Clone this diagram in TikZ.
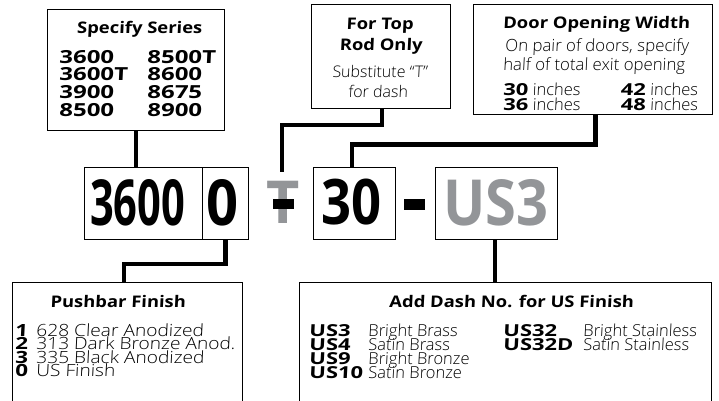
\documentclass[tikz,border=0pt]{standalone}
\usepackage{fontspec}
\usepackage{graphicx}
\setmainfont{Open Sans}[FakeSlant=0.05, BoldFeatures={FakeStretch=1.15, FakeSlant=0.05}]
\IfFontExistsTF{Open Sans Light}{\newfontfamily\lite{Open Sans Light}[FakeSlant=0.05]}{\newfontfamily\lite{Open Sans}[FakeSlant=0.05]}
\IfFontExistsTF{Open Sans Light}{\newfontfamily\litew{Open Sans Light}[FakeSlant=0.05, FakeStretch=1.14]}{\newfontfamily\litew{Open Sans}[FakeSlant=0.05, FakeStretch=1.14]}
\newfontfamily\wideb{Open Sans Bold}[FakeSlant=0.05, FakeStretch=1.33]
\IfFontExistsTF{Open Sans ExtraBold}{\newfontfamily\heavy{Open Sans ExtraBold}}{\newfontfamily\heavy{Open Sans Bold}}
\definecolor{pgrey}{HTML}{939598}
\tikzset{
  box/.style={draw, line width=1.2pt, fill=white, inner sep=0pt, anchor=north west},
  conn/.style={line width=4.3pt, line join=miter},
  hd/.style={font=\fontsize{16}{16}\selectfont\bfseries, inner sep=0pt, anchor=base},
  tx/.style={font=\lite\fontsize{16}{16}\selectfont, inner sep=0pt, anchor=base},
  blk/.style={inner sep=0pt, anchor=base west},
  big/.style={inner sep=0pt, anchor=south west},
  dashbox/.style={fill=black, inner sep=0pt, anchor=north west}
}
\newcommand\sm[1]{\smash{#1}}
\begin{document}
\begin{tikzpicture}[x=1pt,y=-1pt]
\useasboundingbox (0,0) rectangle (719,400);
\clip (0,0) rectangle (719,400);

% boxes
\node[box, minimum width=177pt, minimum height=121pt] (spec) at (47,9) {};
\node[box, minimum width=139pt, minimum height=104pt] (top) at (311,4) {};
\node[box, minimum width=239pt, minimum height=110pt] (door) at (473,4) {};
\node[box, minimum width=118pt, minimum height=72pt] (num) at (84,166.5) {};
\node[box, minimum width=46pt, minimum height=72pt] (fin) at (202,166.5) {};
\node[box, minimum width=82pt, minimum height=72pt] (wid) at (312.5,166.5) {};
\node[box, minimum width=122pt, minimum height=72pt] (us) at (435,166.5) {};
\node[box, minimum width=230pt, minimum height=130pt] (push) at (12,282) {};
\node[box, minimum width=412pt, minimum height=130pt] (usb) at (299,282) {};

% connectors
\coordinate (tEnd) at (281.7,171.7);
\draw[conn] (spec.south) -- (spec.south |- num.north);
\draw[conn] ([xshift=1.2pt]top.south) -- ++(0,15.5) -| (tEnd);
\draw[conn] ([xshift=2.5pt]door.south) -- ++(0,29.3) -| ([xshift=-1.8pt]wid.north);
\draw[conn] (fin.south) -- ++(0,24) -| ([xshift=-3.7pt]push.north);
\draw[conn] ([xshift=-1.3pt]us.south) -- ([xshift=-1.3pt]us.south |- usb.north);

% big code
\node[big] (n3600) at (90,226.7) {\resizebox{95pt}{46pt}{\heavy 3600}};
\node[big] (n0) at (206.7,226.7) {\resizebox{32pt}{46pt}{\heavy 0}};
\node[big] (nT) at (266.7,224) {\resizebox{33.3pt}{42.3pt}{\color{pgrey}\heavy T}};
\node[dashbox, minimum width=21.7pt, minimum height=10pt] (tdash) at (272.3,198.3) {};
\node[big] (n30) at (321.7,225.5) {\resizebox{60pt}{45.5pt}{\heavy 30}};
\node[dashbox, minimum width=21.7pt, minimum height=11pt] (dash) at (403.3,198.3) {};
\node[big] (nUS) at (443,226.3) {\resizebox{105pt}{46pt}{\color{pgrey}\heavy US3}};

% Specify Series
\node[hd] (specT) at (139.5,33) {Specify Series};
\node[blk] (sA) at (59,63) {\wideb\fontsize{18}{17.7}\selectfont
  \begin{tabular}[t]{@{}l@{}}\sm{3600}\\\sm{3600T}\\\sm{3900}\\\sm{8500}\end{tabular}};
\node[blk] (sB) at (147,63) {\wideb\fontsize{18}{17.7}\selectfont
  \begin{tabular}[t]{@{}l@{}}\sm{8500T}\\\sm{8600}\\\sm{8675}\\\sm{8900}\end{tabular}};

% For Top Rod Only
\node[hd] (topT1) at (380,29.3) {For Top};
\node[hd] (topT2) at (381,50) {Rod Only};
\node[tx] (topS1) at (380,77.5) {Substitute “T”};
\node[tx] (topS2) at (378,97) {for dash};

% Door Opening Width
\node[hd] (doorT) at (596.5,28.3) {Door Opening Width};
\node[tx, font=\lite\fontsize{16.8}{16.8}\selectfont] (doorS1) at (597,51.7) {On pair of doors, specify};
\node[tx, font=\lite\fontsize{16.8}{16.8}\selectfont] (doorS2) at (594,70) {half of total exit opening};
\node[blk] (dA) at (503,95) {\lite\fontsize{16.5}{15}\selectfont
  \begin{tabular}[t]{@{}l@{}}\sm{{\wideb 30} inches}\\\sm{{\wideb 36} inches}\end{tabular}};
\node[blk, anchor=base east] (dB) at (698,95) {\lite\fontsize{16.5}{15}\selectfont
  \begin{tabular}[t]{@{}r@{}}\sm{{\wideb 42} inches}\\\sm{{\wideb 48} inches}\end{tabular}};

% Pushbar Finish
\node[hd] (pushT) at (118,307) {Pushbar Finish};
\node[blk] (pRows) at (15,336) {\litew\fontsize{16.8}{13.6}\selectfont
  \begin{tabular}[t]{@{}p{21pt}@{}l@{}}
  \sm{\wideb 1} & \sm{628 Clear Anodized}\\
  \sm{\wideb 2} & \sm{313 Dark Bronze Anod.}\\
  \sm{\wideb 3} & \sm{335 Black Anodized}\\
  \sm{\wideb 0} & \sm{US Finish}
  \end{tabular}};

% US Finish
\node[hd] (usT) at (511.5,307) {Add Dash No. for US Finish};
\node[blk] (uA) at (309,336) {\lite\fontsize{16.5}{14.3}\selectfont
  \begin{tabular}[t]{@{}p{59pt}@{}l@{}}
  \sm{\wideb US3} & \sm{Bright Brass}\\
  \sm{\wideb US4} & \sm{Satin Brass}\\
  \sm{\wideb US9} & \sm{Bright Bronze}\\
  \sm{\wideb US10} & \sm{Satin Bronze}
  \end{tabular}};
\node[blk] (uB) at (503,336) {\lite\fontsize{16.5}{14.3}\selectfont
  \begin{tabular}[t]{@{}p{80pt}@{}l@{}}
  \sm{\wideb US32} & \sm{Bright Stainless}\\
  \sm{\wideb US32D} & \sm{Satin Stainless}
  \end{tabular}};
\end{tikzpicture}
\end{document}
